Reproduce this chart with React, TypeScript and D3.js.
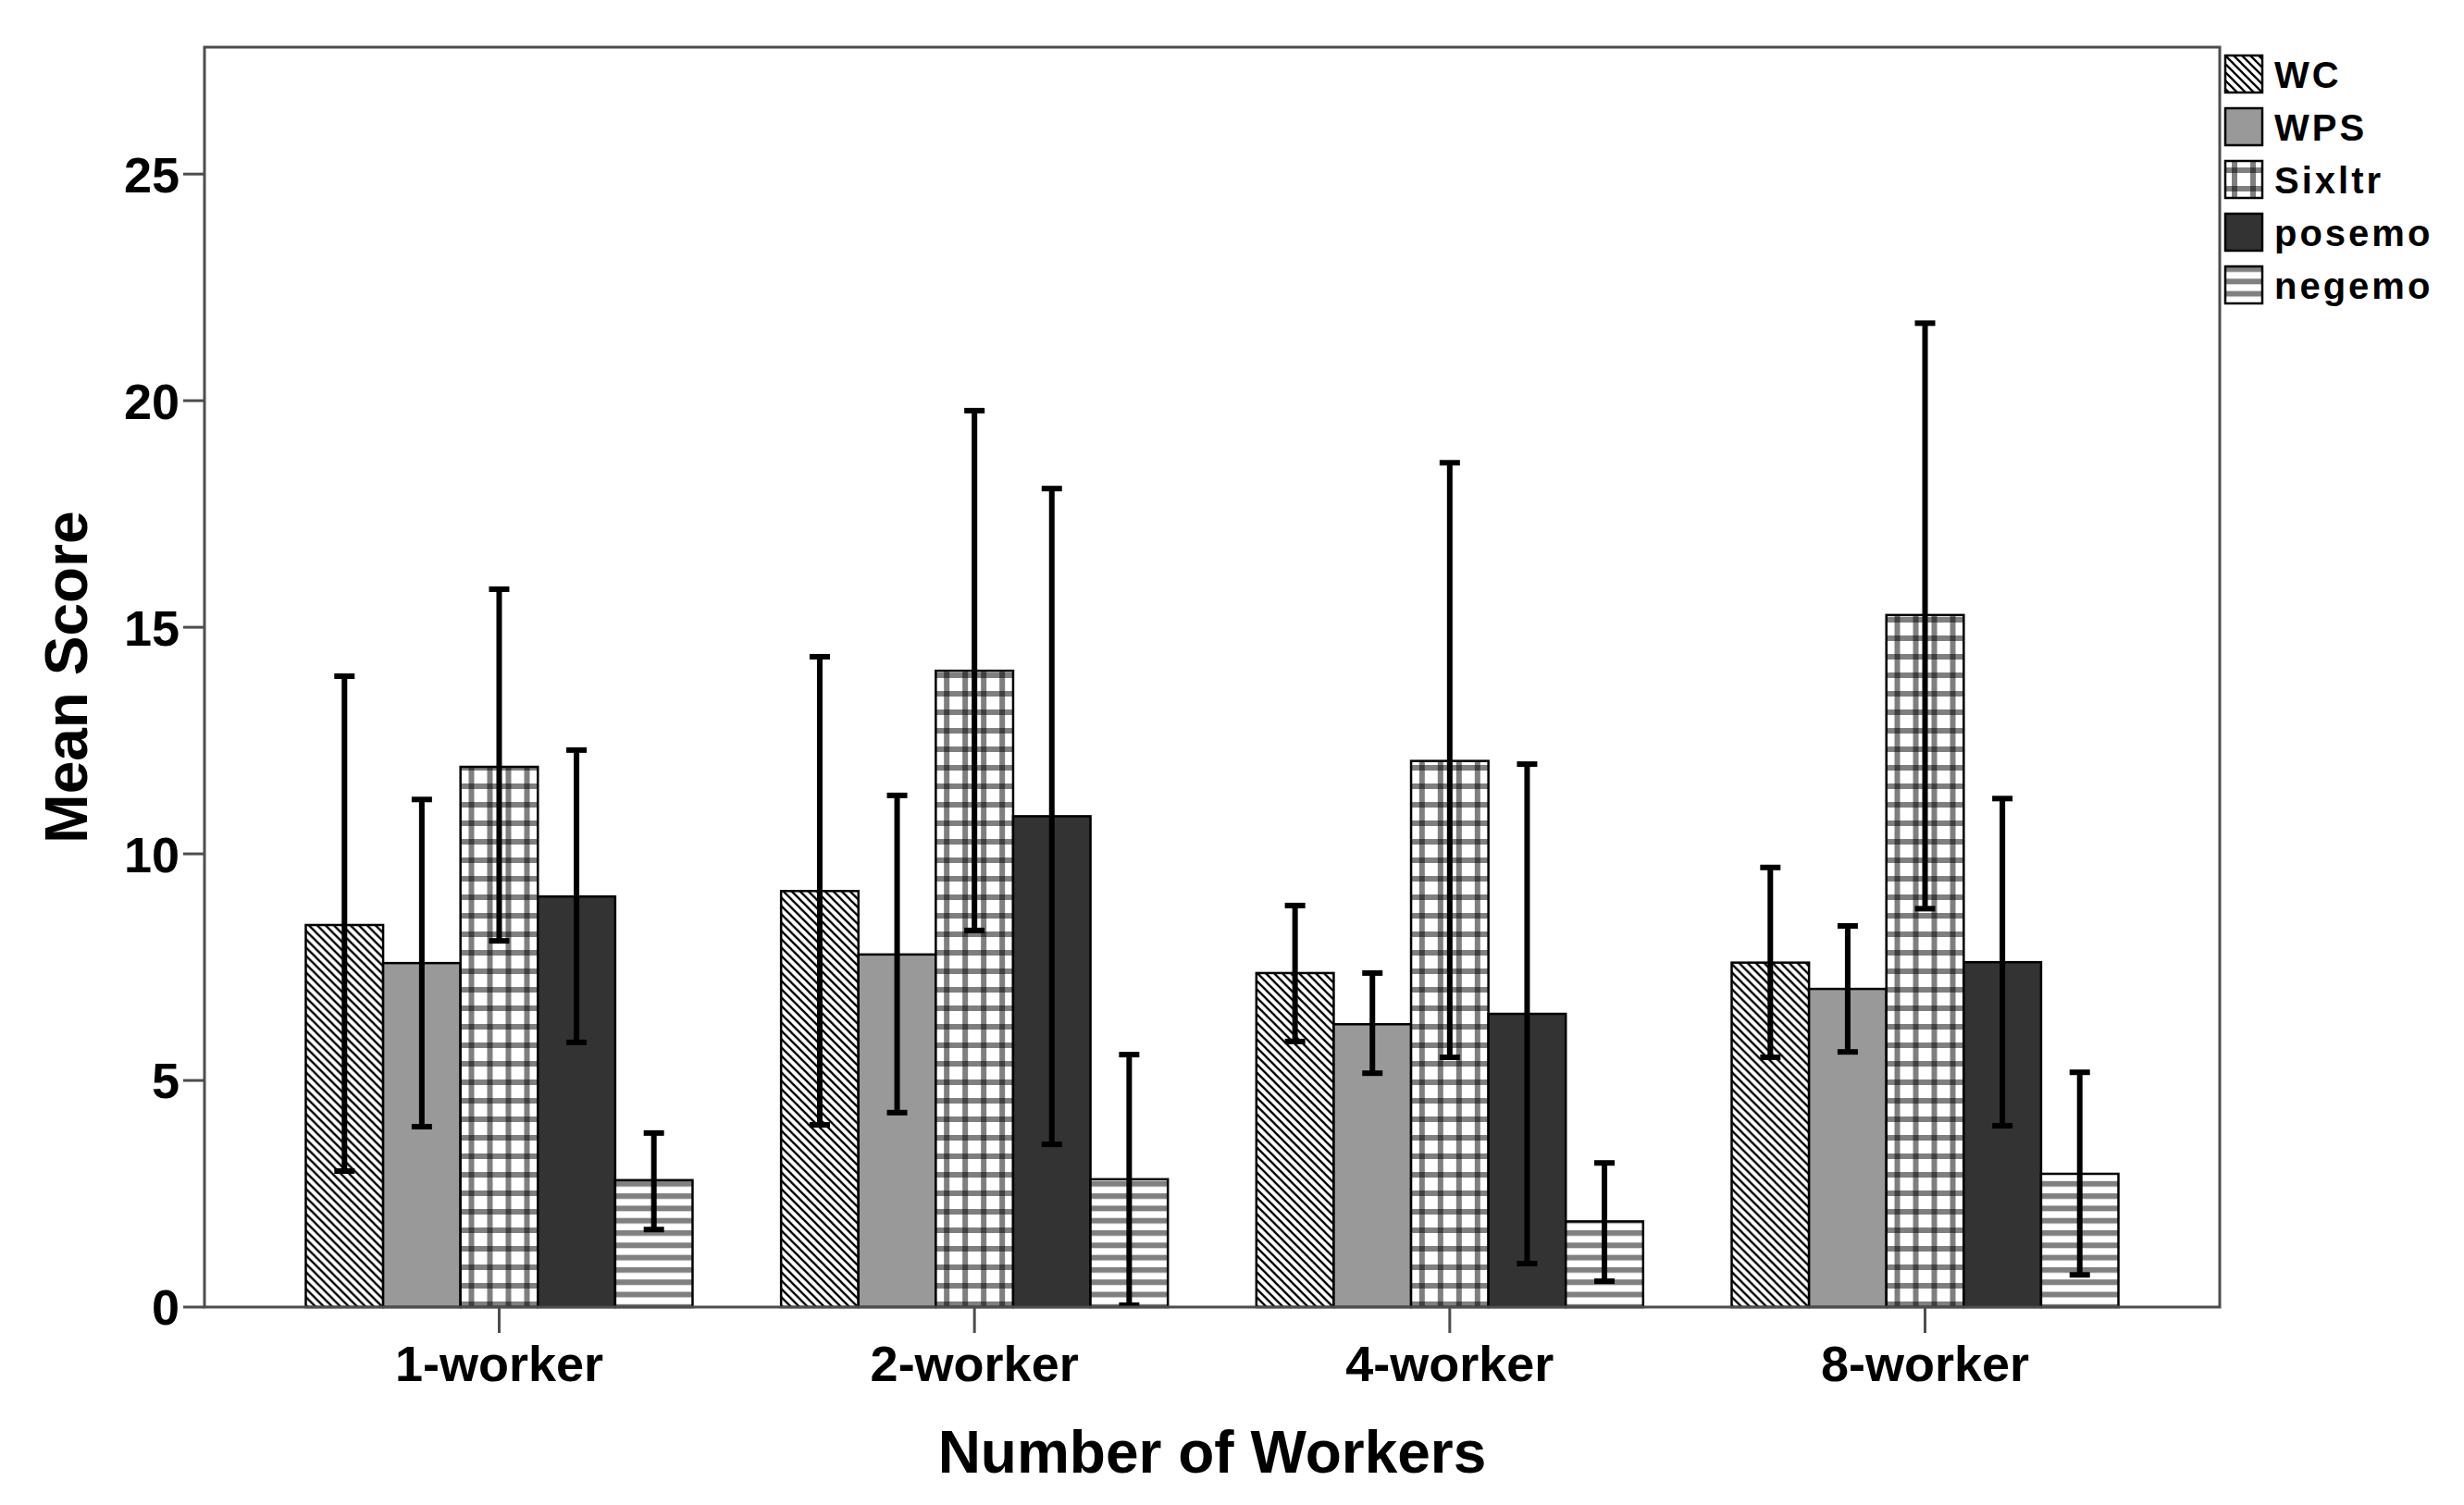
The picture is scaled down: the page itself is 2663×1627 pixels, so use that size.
import React from "react";
import * as d3 from "d3";

const categories = ["1-worker", "2-worker", "4-worker", "8-worker"];
const seriesNames = ["WC", "WPS", "Sixltr", "posemo", "negemo"];
// mean values [category][series]
const means = [
  [8.43, 7.59, 11.92, 9.06, 2.8],
  [9.18, 7.78, 14.04, 10.83, 2.82],
  [7.37, 6.24, 12.05, 6.47, 1.89],
  [7.6, 7.02, 15.27, 7.61, 2.94],
];
const errLow = [
  [3.0, 3.98, 8.08, 5.84, 1.71],
  [4.02, 4.29, 8.31, 3.59, 0.04],
  [5.86, 5.16, 5.51, 0.96, 0.57],
  [5.51, 5.63, 8.79, 4.0, 0.71],
];
const errHigh = [
  [13.92, 11.2, 15.84, 12.29, 3.84],
  [14.35, 11.29, 19.78, 18.06, 5.57],
  [8.86, 7.37, 18.63, 11.98, 3.18],
  [9.7, 8.41, 21.71, 11.22, 5.18],
];
const yTicks = [0, 5, 10, 15, 20, 25];
const fills = ["url(#pWC)", "#999999", "url(#pSix)", "#333333", "url(#pNeg)"];

const W = 2663;
const H = 1627;
const left = 221;
const right = 2399;
const top = 51;
const bottom = 1413;
const FONT = "'Liberation Sans', Arial, sans-serif";
const AX = "#4d4d4d";

export default function App() {
  const y = d3.scaleLinear().domain([0, 27.8]).range([bottom, top]);
  const x0 = d3.scalePoint<string>().domain(categories).range([left, right]).padding(0.62);
  const x1 = d3.scaleBand<string>().domain(seriesNames).range([-209, 209]).padding(0);
  const bw = x1.bandwidth();

  return (
    <svg
      width={W}
      height={H}
      style={{ position: "absolute", left: 0, top: 0, display: "block", background: "#fff" }}
    >
      <defs>
        <pattern id="pWC" patternUnits="userSpaceOnUse" width={9} height={9}>
          <rect width={9} height={9} fill="#fff" />
          <path d="M-1,-1 L10,10 M-1,8 L1,10 M8,-1 L10,1" stroke="#000" strokeWidth={2.3} />
        </pattern>
        <pattern id="pSix" patternUnits="userSpaceOnUse" width={20} height={20}>
          <rect width={20} height={20} fill="#fff" />
          <rect x={7} y={0} width={6} height={20} fill="#000" fillOpacity={0.5} />
          <rect x={0} y={7} width={20} height={6} fill="#000" fillOpacity={0.5} />
        </pattern>
        <pattern id="pNeg" patternUnits="userSpaceOnUse" width={20} height={13.3}>
          <rect width={20} height={13.3} fill="#fff" />
          <rect x={0} y={0} width={20} height={6} fill="#808080" />
        </pattern>
      </defs>

      {/* bars */}
      {categories.map((c, ci) => (
        <g key={c} transform={`translate(${x0(c)},0)`}>
          {seriesNames.map((s, si) => (
            <rect
              key={s}
              x={x1(s)}
              y={y(means[ci][si])}
              width={bw}
              height={y(0) - y(means[ci][si])}
              fill={fills[si]}
              stroke="#000"
              strokeWidth={2.5}
            />
          ))}
        </g>
      ))}

      {/* error bars */}
      {categories.map((c, ci) => (
        <g key={c + "e"} transform={`translate(${x0(c)},0)`}>
          {seriesNames.map((s, si) => {
            const cx = (x1(s) as number) + bw / 2;
            return (
              <g key={s} stroke="#000" strokeWidth={6}>
                <line x1={cx} x2={cx} y1={y(errLow[ci][si])} y2={y(errHigh[ci][si])} />
                <line x1={cx - 11} x2={cx + 11} y1={y(errLow[ci][si])} y2={y(errLow[ci][si])} />
                <line x1={cx - 11} x2={cx + 11} y1={y(errHigh[ci][si])} y2={y(errHigh[ci][si])} />
              </g>
            );
          })}
        </g>
      ))}

      {/* frame */}
      <rect x={left} y={top} width={right - left} height={bottom - top} fill="none" stroke={AX} strokeWidth={3} />

      {/* y axis ticks */}
      {yTicks.map((t) => (
        <g key={t}>
          <line x1={left - 23} x2={left} y1={y(t)} y2={y(t)} stroke={AX} strokeWidth={3} />
          <text
            x={left - 27}
            y={y(t)}
            dy="0.36em"
            textAnchor="end"
            fontFamily={FONT}
            fontWeight="bold"
            fontSize={54}
            fill="#000"
          >
            {t}
          </text>
        </g>
      ))}

      {/* x axis ticks */}
      {categories.map((c) => (
        <g key={c + "t"}>
          <line x1={x0(c)} x2={x0(c)} y1={bottom} y2={bottom + 28} stroke={AX} strokeWidth={3} />
          <text
            x={x0(c)}
            y={1493}
            textAnchor="middle"
            fontFamily={FONT}
            fontWeight="bold"
            fontSize={54}
            fill="#000"
          >
            {c}
          </text>
        </g>
      ))}

      {/* axis titles */}
      <text
        x={(left + right) / 2}
        y={1592}
        textAnchor="middle"
        fontFamily={FONT}
        fontWeight="bold"
        fontSize={64}
        fill="#000"
      >
        Number of Workers
      </text>
      <text
        transform={`translate(94,${(top + bottom) / 2}) rotate(-90)`}
        textAnchor="middle"
        fontFamily={FONT}
        fontWeight="bold"
        fontSize={64}
        fill="#000"
      >
        Mean Score
      </text>

      {/* legend */}
      {seriesNames.map((s, si) => (
        <g key={s + "l"} transform={`translate(2405,${60 + si * 57})`}>
          <rect x={0} y={0} width={40} height={40} fill={fills[si]} stroke="#000" strokeWidth={2.5} />
          <text
            x={53}
            y={21}
            dy="0.36em"
            fontFamily={FONT}
            fontWeight="bold"
            fontSize={40}
            letterSpacing={3}
            fill="#000"
          >
            {s}
          </text>
        </g>
      ))}
    </svg>
  );
}
